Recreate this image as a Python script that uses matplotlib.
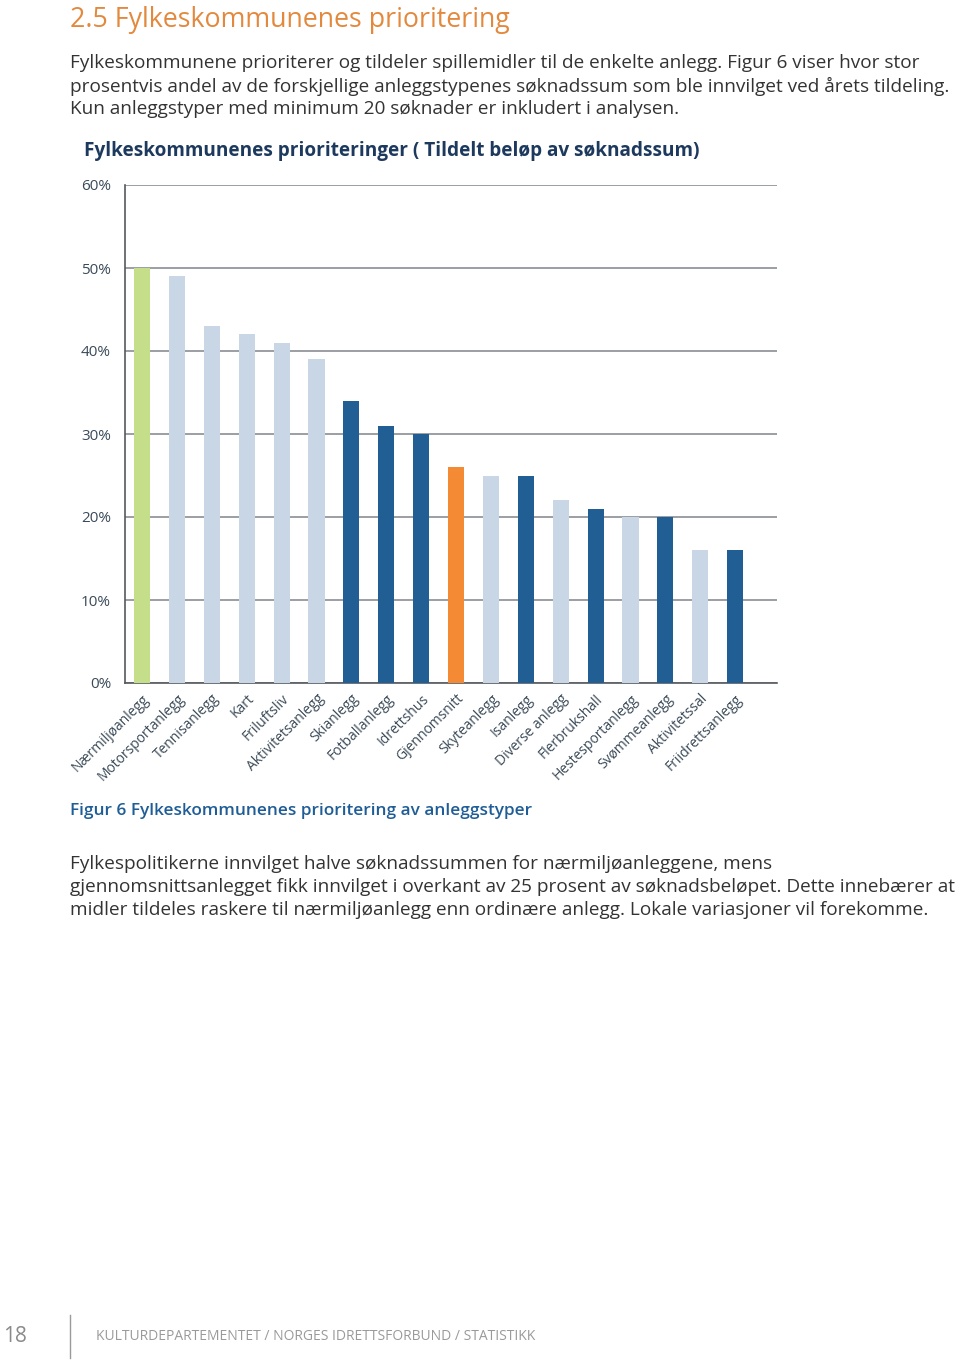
import matplotlib
matplotlib.use("Agg")
import matplotlib.pyplot as plt
from matplotlib.ticker import PercentFormatter
from matplotlib.lines import Line2D

plt.rcParams['font.family'] = ['Open Sans', 'DejaVu Sans']

categories = ['Nærmiljøanlegg', 'Motorsportanlegg', 'Tennisanlegg', 'Kart', 'Friluftsliv',
              'Aktivitetsanlegg', 'Skianlegg', 'Fotballanlegg', 'Idrettshus', 'Gjennomsnitt',
              'Skyteanlegg', 'Isanlegg', 'Diverse anlegg', 'Flerbrukshall', 'Hestesportanlegg',
              'Svømmeanlegg', 'Aktivitetssal', 'Friidrettsanlegg']
values = [50, 49, 43, 42, 41, 39, 34, 31, 30, 26, 25, 25, 22, 21, 20, 20, 16, 16]
groups = ['green', 'light', 'light', 'light', 'light', 'light', 'dark', 'dark', 'dark', 'avg',
          'light', 'dark', 'light', 'dark', 'light', 'dark', 'light', 'dark']
yticks = [0, 10, 20, 30, 40, 50, 60]

palette = {'green': '#c5de8a', 'light': '#c8d6e5', 'dark': '#215e93', 'avg': '#f48a33'}
colors = [palette[g] for g in groups]

text_col = '#333333'
fig = plt.figure(figsize=(9.6, 13.6), dpi=100)

# page text
fig.text(70/960, 1 - 20/1360, '2.5 Fylkeskommunenes prioritering', color='#e3893d',
         fontsize=19.3, va='center', ha='left')
intro = ["Fylkeskommunene prioriterer og tildeler spillemidler til de enkelte anlegg. Figur 6 viser hvor stor",
         "prosentvis andel av de forskjellige anleggstypenes søknadssum som ble innvilget ved årets tildeling.",
         "Kun anleggstyper med minimum 20 søknader er inkludert i analysen."]
for i, line in enumerate(intro):
    fig.text(70/960, 1 - (63 + 23*i)/1360, line, color=text_col, fontsize=13.7, va='center')

fig.text(84/960, 1 - 151/1360, 'Fylkeskommunenes prioriteringer ( Tildelt beløp av søknadssum)',
         color='#1d3a5e', fontsize=13.7, fontweight='bold', va='center')

ax = fig.add_axes([125/960, 1 - 683/1360, 652/960, 498/1360])
x = range(len(categories))
ax.bar(x, values, width=0.46, color=colors, zorder=3)
ax.set_xlim(-0.49, 18.2)
ax.set_ylim(0, 60)
ax.set_yticks(yticks)
ax.yaxis.set_major_formatter(PercentFormatter(decimals=0))
ax.grid(axis='y', color='#8a8f94', linewidth=1.2, zorder=0)
ax.set_axisbelow(True)
for s in ['top', 'right']:
    ax.spines[s].set_visible(False)
ax.spines['left'].set_color('#555a5f')
ax.spines['bottom'].set_color('#555a5f')
ax.spines['left'].set_linewidth(1.2)
ax.spines['bottom'].set_linewidth(1.2)
ax.tick_params(axis='y', length=0, pad=10, labelsize=11, labelcolor='#3a4a58')
ax.tick_params(axis='x', length=0, pad=6, labelsize=10, labelcolor='#3a4a58')
ax.set_xticks(list(x))
ax.set_xticklabels(categories, rotation=45, ha='right', rotation_mode='anchor')

fig.text(70/960, 1 - 811/1360, 'Figur 6 Fylkeskommunenes prioritering av anleggstyper',
         color='#1f5d96', fontsize=12.4, fontweight='semibold', va='center')

outro = ["Fylkespolitikerne innvilget halve søknadssummen for nærmiljøanleggene, mens",
         "gjennomsnittsanlegget fikk innvilget i overkant av 25 prosent av søknadsbeløpet. Dette innebærer at",
         "midler tildeles raskere til nærmiljøanlegg enn ordinære anlegg. Lokale variasjoner vil forekomme."]
for i, line in enumerate(outro):
    fig.text(70/960, 1 - (864 + 23*i)/1360, line, color=text_col, fontsize=13.7, va='center')

# footer
fig.text(3/960, 1 - 1337/1360, '18', color='#8a8a8a', fontsize=15, va='center')
fig.add_artist(Line2D([70/960, 70/960], [1 - 1315/1360, 1 - 1358/1360],
                      color='#9a9a9a', linewidth=1))
fig.text(96/960, 1 - 1336/1360, 'KULTURDEPARTEMENTET / NORGES IDRETTSFORBUND / STATISTIKK',
         color='#9a9a9a', fontsize=10, va='center')

fig.savefig('out.png', dpi=100)
